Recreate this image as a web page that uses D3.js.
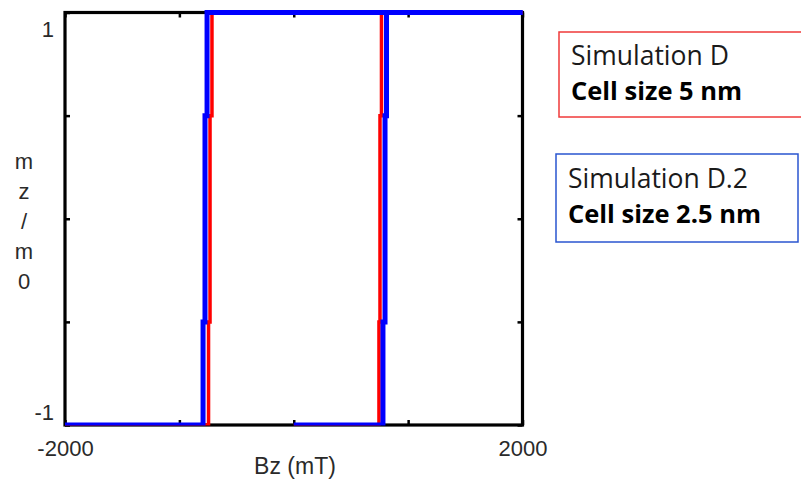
<!DOCTYPE html>
<html><head><meta charset="utf-8">
<script src="https://cdn.jsdelivr.net/npm/d3@7"></script>
<style>body{margin:0;background:#fff;} svg{display:block}</style>
</head><body><svg id="c" width="801" height="483"></svg>
<script>
// ---- data ----
const xTicks = [-2000, -1000, 0, 1000, 2000];
const xTickLabels = ["-2000", "", "", "", "2000"];
const yTicks = [-1, -0.5, 0, 0.5, 1];
const yTickLabels = ["-1", "", "", "", "1"];
const yLabelChars = ["m", "z", "/", "m", "0"];
const xLabel = "Bz (mT)";
// magnetisation levels at which switching steps occur
const mSteps = [1, 0.5, -0.5, -1];
// descending branch switching fields (mT), one per segment top→bottom
const descD = [-715, -732, -745];
const descD2 = [-758, -776, -793];
// ascending branch switching fields (mT), one per segment bottom→top
const ascD = [745, 754, 767];
const ascD2 = [780, 798, 811];
const sweepStart = 0;   // ascending sweep starts at 0 mT
const legendTitles = ["Simulation D", "Simulation D.2"];
const legendSubs = ["Cell size 5 nm", "Cell size 2.5 nm"];
const colors = ["#ff0000", "#0000ff"];
const boxColors = ["#f03a3a", "#2a55d0"];

const series = [
  {desc: descD, asc: ascD, color: colors[0], width: 3.5},
  {desc: descD2, asc: ascD2, color: colors[1], width: 5}
];

// ---- layout ----
const svg = d3.select("#c");
const x = d3.scaleLinear().domain([-2000, 2000]).range([65, 522.5]);
const y = d3.scaleLinear().domain([-1, 1]).range([425, 12.5]);
const axisFont = "Liberation Sans, Arial, sans-serif";

function descPoints(f) {
  const p = [[2000, mSteps[0]]];
  for (let i = 0; i < f.length; i++) {
    p.push([f[i], mSteps[i]]);
    p.push([f[i], mSteps[i + 1]]);
  }
  p.push([-2000, mSteps[mSteps.length - 1]]);
  return p;
}
function ascPoints(f) {
  const lv = mSteps.slice().reverse();
  const p = [[sweepStart, lv[0]]];
  for (let i = 0; i < f.length; i++) {
    p.push([f[i], lv[i]]);
    p.push([f[i], lv[i + 1]]);
  }
  p.push([2000, lv[lv.length - 1]]);
  return p;
}

// frame
svg.append("rect").attr("x", x(-2000)).attr("y", y(1))
  .attr("width", x(2000) - x(-2000)).attr("height", y(-1) - y(1))
  .attr("fill", "none").attr("stroke", "#000").attr("stroke-width", 3.2);

// axes (ticks inward)
const fmtX = (d, i) => xTickLabels[i];
const fmtY = (d, i) => yTickLabels[i];
const axB = svg.append("g").attr("transform", `translate(0,${y(-1)})`)
  .call(d3.axisBottom(x).tickValues(xTicks).tickSize(-5).tickPadding(12).tickFormat(fmtX));
const axT = svg.append("g").attr("transform", `translate(0,${y(1)})`)
  .call(d3.axisTop(x).tickValues(xTicks).tickSize(-5).tickFormat(() => ""));
const axL = svg.append("g").attr("transform", `translate(${x(-2000)},0)`)
  .call(d3.axisLeft(y).tickValues(yTicks).tickSize(-5).tickPadding(11).tickFormat(fmtY));
const axR = svg.append("g").attr("transform", `translate(${x(2000)},0)`)
  .call(d3.axisRight(y).tickValues(yTicks).tickSize(-5).tickFormat(() => ""));
[axB, axT, axL, axR].forEach(a => {
  a.select(".domain").remove();
  a.selectAll(".tick line").attr("stroke", "#000").attr("stroke-width", 2.5);
  a.selectAll("text").attr("font-family", axisFont)
    .attr("font-size", 22).attr("fill", "#2a2a2a");
});
axB.selectAll("text").attr("dy", "0.85em");
// y tick labels sit inside the range: "1" below its tick, "-1" above
axL.selectAll(".tick text").attr("dy", d => d === 1 ? "24px" : d === -1 ? "-6px" : "0.32em");

// clip so bottom segments sit partly under the frame
svg.append("clipPath").attr("id", "pc").append("rect")
  .attr("x", 0).attr("y", 0).attr("width", 801).attr("height", y(-1) + 0.5);

const line = d3.line().x(d => x(d[0])).y(d => y(d[1]));
const g = svg.append("g").attr("clip-path", "url(#pc)");
series.forEach(s => {
  g.append("path").attr("d", line(descPoints(s.desc)))
    .attr("fill", "none").attr("stroke", s.color).attr("stroke-width", s.width)
    .attr("stroke-linejoin", "miter").attr("stroke-linecap", "butt");
  g.append("path").attr("d", line(ascPoints(s.asc)))
    .attr("fill", "none").attr("stroke", s.color).attr("stroke-width", s.width)
    .attr("stroke-linejoin", "miter").attr("stroke-linecap", "butt");
});

// axis labels
svg.append("text").attr("x", 295).attr("y", 474).attr("text-anchor", "middle")
  .attr("font-family", axisFont).attr("font-size", 23)
  .attr("fill", "#2a2a2a").text(xLabel);
svg.append("g").selectAll("text").data(yLabelChars).join("text")
  .attr("x", 24).attr("y", (d, i) => 169 + i * 30).attr("text-anchor", "middle")
  .attr("font-family", axisFont).attr("font-size", 22)
  .attr("fill", "#2a2a2a").text(d => d);

// legend boxes
const boxes = [
  {x: 559, y: 32, w: 260, h: 85, ty: 65, sy: 100, tx: 571},
  {x: 556, y: 154, w: 242, h: 88, ty: 188, sy: 223, tx: 568}
];
boxes.forEach((b, i) => {
  svg.append("rect").attr("x", b.x).attr("y", b.y).attr("width", b.w).attr("height", b.h)
    .attr("fill", "#fff").attr("stroke", boxColors[i]).attr("stroke-width", 1.5);
  svg.append("text").attr("x", b.tx).attr("y", b.ty)
    .attr("font-family", "Open Sans, sans-serif").attr("font-size", 26.5)
    .attr("fill", "#1a1a1a").text(legendTitles[i]);
  svg.append("text").attr("x", b.tx).attr("y", b.sy)
    .attr("font-family", "Open Sans, sans-serif").attr("font-size", 25.5).attr("font-weight", "bold")
    .attr("fill", "#000").text(legendSubs[i]);
});
</script>
</body></html>
